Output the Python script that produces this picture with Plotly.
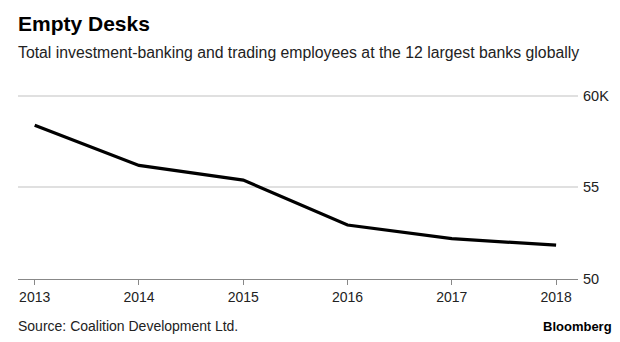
import plotly.graph_objects as go

years = [2013, 2014, 2015, 2016, 2017, 2018]
employees_k = [58.4, 56.2, 55.4, 52.95, 52.2, 51.85]
y_ticks = [50, 55, 60]
y_tick_labels = ["50", "55", "60K"]

W, H = 620, 342
ml, mr, mt, mb = 18, 42, 94, 63
pw, ph = W - ml - mr, H - mt - mb

def px(x):
    return (x - ml) / pw

def py(y):
    return (H - mb - y) / ph

FONT = "Liberation Sans"

fig = go.Figure()
fig.add_trace(go.Scatter(x=years, y=employees_k, mode="lines",
                         line=dict(color="#000000", width=3.2),
                         hoverinfo="skip", showlegend=False))

fig.update_layout(
    width=W, height=H,
    margin=dict(l=ml, r=mr, t=mt, b=mb),
    paper_bgcolor="white", plot_bgcolor="white",
    font=dict(family=FONT, color="#222222"),
    xaxis=dict(range=[2012.84, 2018.21], tickvals=years,
               ticktext=[str(y) for y in years],
               showgrid=False, zeroline=False,
               showline=True, linecolor="#888888", linewidth=1,
               ticks="outside", ticklen=5, tickcolor="#888888",
               tickfont=dict(size=14, color="#222222", family=FONT),
               fixedrange=True),
    yaxis=dict(range=[50, 60.1], side="right", tickvals=y_ticks,
               ticktext=y_tick_labels, showgrid=True,
               gridcolor="#e0e0e0", gridwidth=1.5, zeroline=False,
               showline=False, ticks="", ticklabelstandoff=4,
               tickfont=dict(size=14.5, color="#222222", family=FONT),
               fixedrange=True),
    annotations=[
        dict(text="<b>Empty Desks</b>", x=px(16), y=py(10), xref="paper", yref="paper",
             xanchor="left", yanchor="top", showarrow=False,
             font=dict(size=21, color="#000000", family=FONT)),
        dict(text="Total investment-banking and trading employees at the 12 largest banks globally",
             x=px(16), y=py(42), xref="paper", yref="paper",
             xanchor="left", yanchor="top", showarrow=False,
             font=dict(size=15.8, color="#222222", family=FONT)),
        dict(text="Source: Coalition Development Ltd.", x=px(16), y=py(316),
             xref="paper", yref="paper", xanchor="left", yanchor="top",
             showarrow=False, font=dict(size=14, color="#222222", family=FONT)),
        dict(text="<b>Bloomberg</b>", x=px(614), y=py(317),
             xref="paper", yref="paper", xanchor="right", yanchor="top",
             showarrow=False, font=dict(size=13, color="#000000", family=FONT)),
    ],
)

fig.write_html("out.html")
